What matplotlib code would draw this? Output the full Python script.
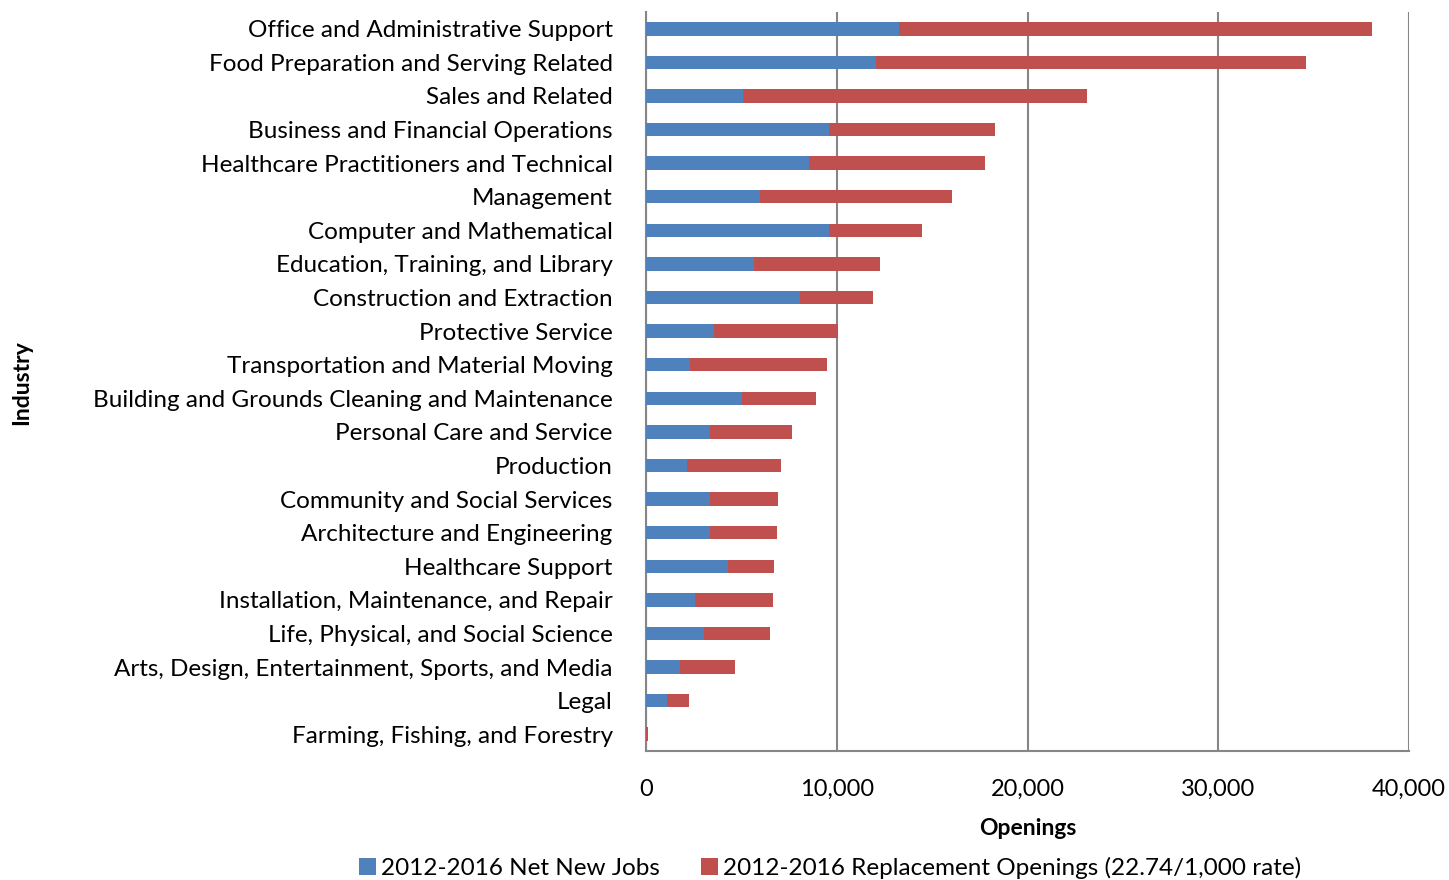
import matplotlib
matplotlib.use("Agg")
import matplotlib.pyplot as plt
import numpy as np

plt.rcParams['font.family'] = ['Lato', 'DejaVu Sans']

categories = [
    "Office and Administrative Support",
    "Food Preparation and Serving Related",
    "Sales and Related",
    "Business and Financial Operations",
    "Healthcare Practitioners and Technical",
    "Management",
    "Computer and Mathematical",
    "Education, Training, and Library",
    "Construction and Extraction",
    "Protective Service",
    "Transportation and Material Moving",
    "Building and Grounds Cleaning and Maintenance",
    "Personal Care and Service",
    "Production",
    "Community and Social Services",
    "Architecture and Engineering",
    "Healthcare Support",
    "Installation, Maintenance, and Repair",
    "Life, Physical, and Social Science",
    "Arts, Design, Entertainment, Sports, and Media",
    "Legal",
    "Farming, Fishing, and Forestry",
]
net_new = [13260, 12060, 5090, 9590, 8550, 5980, 9590, 5660, 8070, 3560,
           2310, 5030, 3360, 2150, 3360, 3360, 4300, 2570, 3040, 1780, 1100, 0]
totals = [38060, 34600, 23120, 18300, 17770, 16040, 14470, 12270, 11900, 10070,
          9490, 8910, 7650, 7080, 6920, 6870, 6710, 6660, 6500, 4670, 2250, 100]
replacement = [t - n for t, n in zip(totals, net_new)]

series_labels = ["2012-2016 Net New Jobs",
                 "2012-2016 Replacement Openings (22.74/1,000 rate)"]
xticks = [0, 10000, 20000, 30000, 40000]

fig = plt.figure(figsize=(14.49, 8.80), dpi=100)
ax = fig.add_axes([646/1449, 1-751/880, (1409-646)/1449, (751-12)/880])

y = np.arange(len(categories))
blue = "#4F81BD"
red = "#C0504D"
ax.barh(y, net_new, height=0.4, color=blue, label=series_labels[0], zorder=3)
ax.barh(y, replacement, left=net_new, height=0.4, color=red, label=series_labels[1], zorder=3)

ax.set_ylim(len(categories) - 0.5, -0.5)
ax.set_yticks(y)
ax.set_yticklabels(categories, fontsize=17.5, color="black")
ax.set_xlim(0, 40000)
ax.set_xticks(xticks)
ax.set_xticklabels([f"{v:,}" for v in xticks], fontsize=17)
ax.tick_params(axis='both', length=0)
ax.tick_params(axis='x', pad=20)
ax.tick_params(axis='y', pad=24)
ax.grid(axis='x', color="#868686", linewidth=1.5, zorder=0)
for s in ["top", "right"]:
    ax.spines[s].set_visible(False)
for s in ["left", "bottom"]:
    ax.spines[s].set_color("#868686")
    ax.spines[s].set_linewidth(1.5)

ax.set_xlabel("Openings", fontsize=16.5, fontweight="bold", labelpad=13)
fig.text(22/1449, 1-383/880, "Industry", rotation=90, fontsize=16.5,
         fontweight="bold", ha="center", va="center")

leg = fig.legend(loc="center", bbox_to_anchor=(830/1449, 1-868/880), ncol=2,
                 frameon=False, fontsize=17.5, handlelength=0.7, handleheight=0.7,
                 handletextpad=0.2, columnspacing=1.7)

fig.savefig("out.png", dpi=100)
